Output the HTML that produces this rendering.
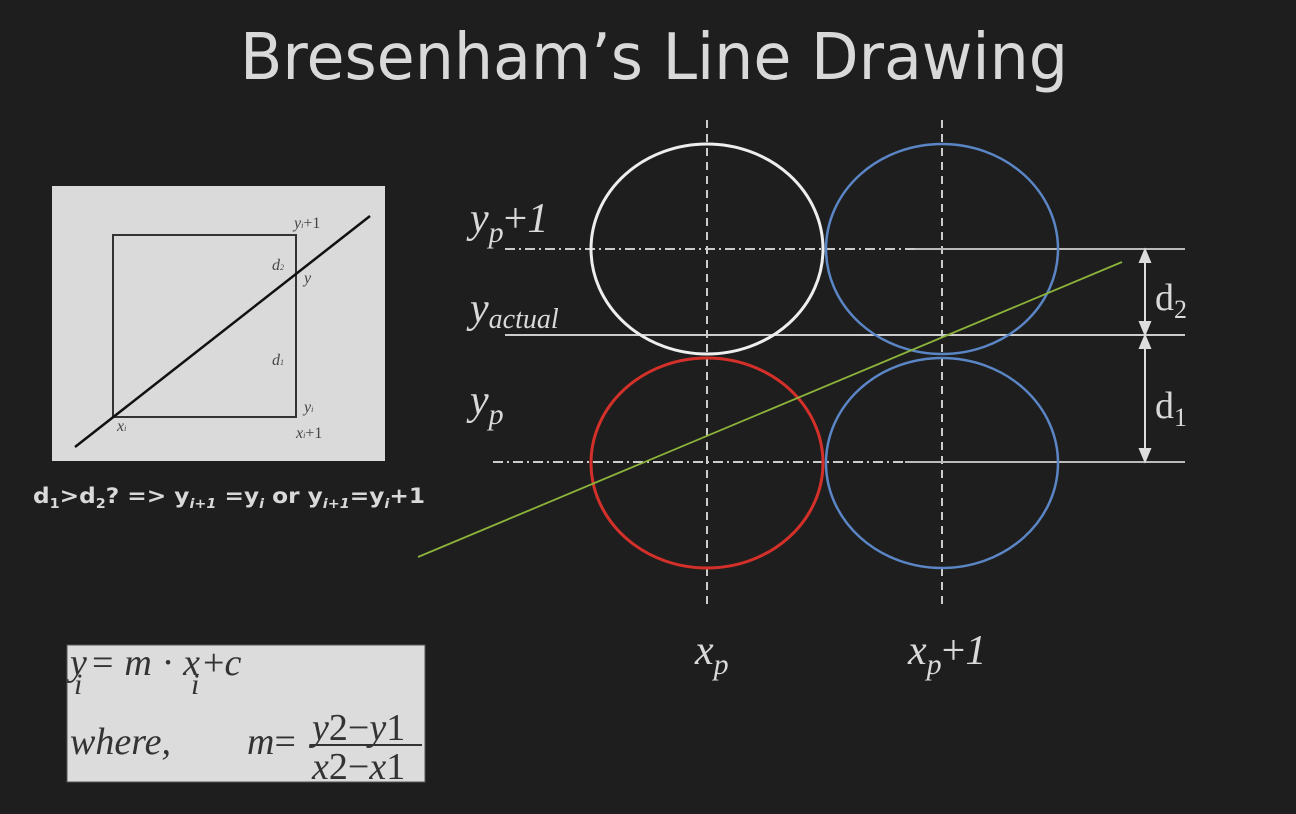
<!DOCTYPE html>
<html><head><meta charset="utf-8"><style>
html,body{margin:0;padding:0;background:#1e1e1e;}
svg{display:block}
</style></head><body>
<svg width="1296" height="814" viewBox="0 0 1296 814" xmlns="http://www.w3.org/2000/svg">
<rect x="0" y="0" width="1296" height="814" fill="#1e1e1e"/>
<text x="654" y="79" text-anchor="middle" font-family="DejaVu Sans, sans-serif" font-size="64" textLength="828" lengthAdjust="spacingAndGlyphs" fill="#d9d9d9">Bresenham’s Line Drawing</text>

<g>
<rect x="52" y="186" width="333" height="275" fill="#dadada"/>
<rect x="113" y="235" width="183" height="182" fill="none" stroke="#333" stroke-width="2"/>
<line x1="75" y1="447" x2="370" y2="216" stroke="#111" stroke-width="2.5"/>
<g font-family="Liberation Serif, serif" font-size="16" fill="#444" font-style="italic">
<text x="294" y="228">y<tspan font-size="8">i</tspan><tspan font-style="normal">+1</tspan></text>
<text x="272" y="270">d<tspan font-size="8">2</tspan></text>
<text x="304" y="283">y</text>
<text x="272" y="365">d<tspan font-size="8">1</tspan></text>
<text x="304" y="412">y<tspan font-size="8">i</tspan></text>
<text x="117" y="431">x<tspan font-size="8">i</tspan></text>
<text x="296" y="438">x<tspan font-size="8">i</tspan><tspan font-style="normal">+1</tspan></text>
</g>
</g>
<text x="33" y="503" font-family="DejaVu Sans, sans-serif" font-weight="bold" font-size="21" textLength="392" lengthAdjust="spacingAndGlyphs" fill="#d9d9d9">d<tspan font-size="13" dy="5">1</tspan><tspan dy="-5">&gt;d</tspan><tspan font-size="13" dy="5">2</tspan><tspan dy="-5">? =&gt;  y</tspan><tspan font-size="13" font-style="italic" dy="5">i+1</tspan><tspan dy="-5"> =y</tspan><tspan font-size="13" font-style="italic" dy="5">i</tspan><tspan dy="-5">  or  y</tspan><tspan font-size="13" font-style="italic" dy="5">i+1</tspan><tspan dy="-5">=y</tspan><tspan font-size="13" font-style="italic" dy="5">i</tspan><tspan dy="-5">+1</tspan></text>

<g>
<rect x="67" y="645" width="358" height="137" fill="#dcdcdc" stroke="#555" stroke-width="1"/>
<g font-family="Liberation Serif, serif" font-style="italic" font-size="38" fill="#333">
<text x="70" y="675">y</text>
<text x="74" y="694" font-size="30">i</text>
<text x="92" y="675" textLength="108" lengthAdjust="spacing"><tspan font-style="normal">=</tspan>m·x</text>
<text x="191" y="694" font-size="30">i</text>
<text x="203" y="675"><tspan font-style="normal">+</tspan>c</text>
<text x="70" y="754">where,</text>
<text x="247" y="754">m<tspan font-style="normal">=</tspan></text>
<text x="312" y="740">y<tspan font-style="normal">2−</tspan>y<tspan font-style="normal">1</tspan></text>
<line x1="310" y1="745" x2="422" y2="745" stroke="#333" stroke-width="2"/>
<text x="312" y="779">x<tspan font-style="normal">2−</tspan>x<tspan font-style="normal">1</tspan></text>
</g>
</g>

<g>
<line x1="707" y1="120" x2="707" y2="605" stroke="#ccc" stroke-width="2" stroke-dasharray="8,6"/>
<line x1="942" y1="120" x2="942" y2="605" stroke="#ccc" stroke-width="2" stroke-dasharray="8,6"/>
<line x1="505" y1="249" x2="915" y2="249" stroke="#ccc" stroke-width="2" stroke-dasharray="10,4,2,4"/>
<line x1="915" y1="249" x2="1185" y2="249" stroke="#bbb" stroke-width="2"/>
<line x1="505" y1="335" x2="1185" y2="335" stroke="#ccc" stroke-width="2"/>
<line x1="493" y1="462" x2="905" y2="462" stroke="#ccc" stroke-width="2" stroke-dasharray="10,4,2,4"/>
<line x1="905" y1="462" x2="1185" y2="462" stroke="#bbb" stroke-width="2"/>
<ellipse cx="707" cy="249" rx="116" ry="105" fill="none" stroke="#eeeeee" stroke-width="3"/>
<ellipse cx="942" cy="249" rx="116" ry="105" fill="none" stroke="#5b86c6" stroke-width="2.5"/>
<ellipse cx="707" cy="463" rx="116" ry="105" fill="none" stroke="#d3302a" stroke-width="3"/>
<ellipse cx="942" cy="463" rx="116" ry="105" fill="none" stroke="#5b86c6" stroke-width="2.5"/>
<line x1="418" y1="557" x2="1122" y2="262" stroke="#8cb33a" stroke-width="1.8"/>
<g stroke="#ddd" stroke-width="2" fill="#ddd">
<line x1="1145" y1="252" x2="1145" y2="332"/>
<polygon points="1145,250 1140,262 1150,262"/>
<polygon points="1145,334 1140,322 1150,322"/>
<line x1="1145" y1="338" x2="1145" y2="459"/>
<polygon points="1145,336 1140,348 1150,348"/>
<polygon points="1145,461 1140,449 1150,449"/>
</g>
<g font-family="Liberation Serif, serif" font-size="38" fill="#d9d9d9">
<text x="1155" y="310">d<tspan font-size="26" dy="8">2</tspan></text>
<text x="1155" y="418">d<tspan font-size="26" dy="8">1</tspan></text>
</g>
<g font-family="Liberation Serif, serif" font-style="italic" font-size="42" fill="#d9d9d9">
<text x="470" y="232">y<tspan font-size="30" dy="10">p</tspan><tspan font-style="normal" dy="-10">+</tspan>1</text>
<text x="470" y="322">y<tspan font-size="28" dy="6">actual</tspan></text>
<text x="470" y="414">y<tspan font-size="30" dy="10">p</tspan></text>
<text x="695" y="664">x<tspan font-size="30" dy="10">p</tspan></text>
<text x="908" y="664">x<tspan font-size="30" dy="10">p</tspan><tspan font-style="normal" dy="-10">+</tspan>1</text>
</g>
</g>
</svg>
</body></html>
